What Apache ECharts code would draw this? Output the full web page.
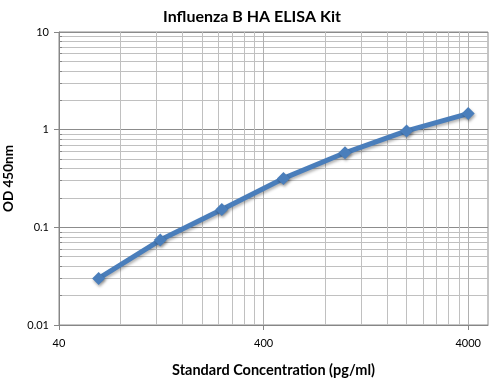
<!DOCTYPE html>
<html>
<head>
<meta charset="utf-8">
<script src="https://cdn.jsdelivr.net/npm/echarts@6/dist/echarts.min.js"></script>
<style>
html,body{margin:0;padding:0;background:#fff;}
#chart{width:504px;height:379px;}
</style>
</head>
<body>
<div id="chart"></div>
<script>
var concentrations = [62.5, 125, 250, 500, 1000, 2000, 4000];
var odValues = [0.03, 0.074, 0.152, 0.317, 0.58, 0.97, 1.46];
var xMajorTicks = [40, 400, 4000];
var xMinorTicks = [80, 120, 160, 200, 240, 280, 320, 360, 800, 1200, 1600, 2000, 2400, 2800, 3200, 3600];
var yMajorTicks = [0.01, 0.1, 1, 10];
var yMinorTicks = [0.02, 0.03, 0.04, 0.05, 0.06, 0.07, 0.08, 0.09, 0.2, 0.3, 0.4, 0.5, 0.6, 0.7, 0.8, 0.9, 2, 3, 4, 5, 6, 7, 8, 9];
var xRange = [40, 5000];
var yRange = [0.01, 10];

var FONT = 'Lato';
var chart = echarts.init(document.getElementById('chart'));
var points = concentrations.map(function (c, i) { return [c, odValues[i]]; });

chart.setOption({
  animation: false,
  backgroundColor: '#fff',
  title: {
    text: 'Influenza B HA ELISA Kit',
    left: 'center',
    top: 4,
    textStyle: { fontFamily: FONT, fontWeight: 'bold', fontSize: 16, color: '#000' }
  },
  grid: {
    left: 59, right: 16, top: 32, bottom: 54,
    containLabel: false, outerBoundsMode: 'none',
    show: true, borderColor: '#8c8c8c', borderWidth: 1, backgroundColor: 'transparent'
  },
  xAxis: [
    {
      type: 'log', logBase: 10, min: xRange[0], max: xRange[1], position: 'bottom',
      axisLine: { show: false },
      axisTick: { show: false, customValues: xMinorTicks },
      axisLabel: { show: false },
      splitLine: { show: true, lineStyle: { color: '#c0c0c0', width: 1 } }
    },
    {
      type: 'log', logBase: 10, min: xRange[0], max: xRange[1], position: 'bottom',
      name: 'Standard Concentration (pg/ml)',
      nameLocation: 'middle', nameGap: 38,
      nameTextStyle: { fontFamily: FONT, fontWeight: 'bold', fontSize: 14.5, color: '#000' },
      axisLine: { show: true, onZero: false, lineStyle: { color: '#868686', width: 1 } },
      axisTick: { show: true, inside: false, length: 5, customValues: xMajorTicks, lineStyle: { color: '#868686' } },
      axisLabel: {
        show: true, customValues: xMajorTicks, margin: 13, fontFamily: FONT, fontSize: 11, color: '#000',
        formatter: function (v) { return String(v); }
      },
      splitLine: { show: true, lineStyle: { color: '#b0b0b0', width: 1 } }
    }
  ],
  yAxis: [
    {
      type: 'log', logBase: 10, min: yRange[0], max: yRange[1], position: 'left',
      axisLine: { show: false },
      axisTick: { show: true, inside: true, length: 3, customValues: yMinorTicks, lineStyle: { color: '#868686' } },
      axisLabel: { show: false },
      splitLine: { show: true, lineStyle: { color: '#c0c0c0', width: 1 } }
    },
    {
      type: 'log', logBase: 10, min: yRange[0], max: yRange[1], position: 'left',
      name: 'OD 450nm',
      nameLocation: 'middle', nameGap: 43,
      nameTextStyle: { fontFamily: FONT, fontWeight: 'bold', fontSize: 13.5, color: '#000' },
      axisLine: { show: true, onZero: false, lineStyle: { color: '#868686', width: 1 } },
      axisTick: { show: true, inside: false, length: 5, customValues: yMajorTicks, lineStyle: { color: '#868686' } },
      axisLabel: {
        show: true, customValues: yMajorTicks, margin: 10, fontFamily: FONT, fontSize: 11, color: '#000',
        formatter: function (v) { return String(v); }
      },
      splitLine: { show: true, lineStyle: { color: '#8c8c8c', width: 1 } }
    }
  ],
  series: [{
    type: 'line',
    xAxisIndex: 1,
    yAxisIndex: 1,
    data: points,
    symbol: 'diamond',
    symbolSize: 13,
    showAllSymbol: true,
    itemStyle: { color: '#4A7EBB', shadowColor: 'rgba(0,0,0,0.35)', shadowBlur: 3, shadowOffsetX: 1, shadowOffsetY: 2 },
    lineStyle: { color: '#4A7EBB', width: 5, shadowColor: 'rgba(0,0,0,0.3)', shadowBlur: 3, shadowOffsetX: 1, shadowOffsetY: 2 }
  }]
});
</script>
</body>
</html>
